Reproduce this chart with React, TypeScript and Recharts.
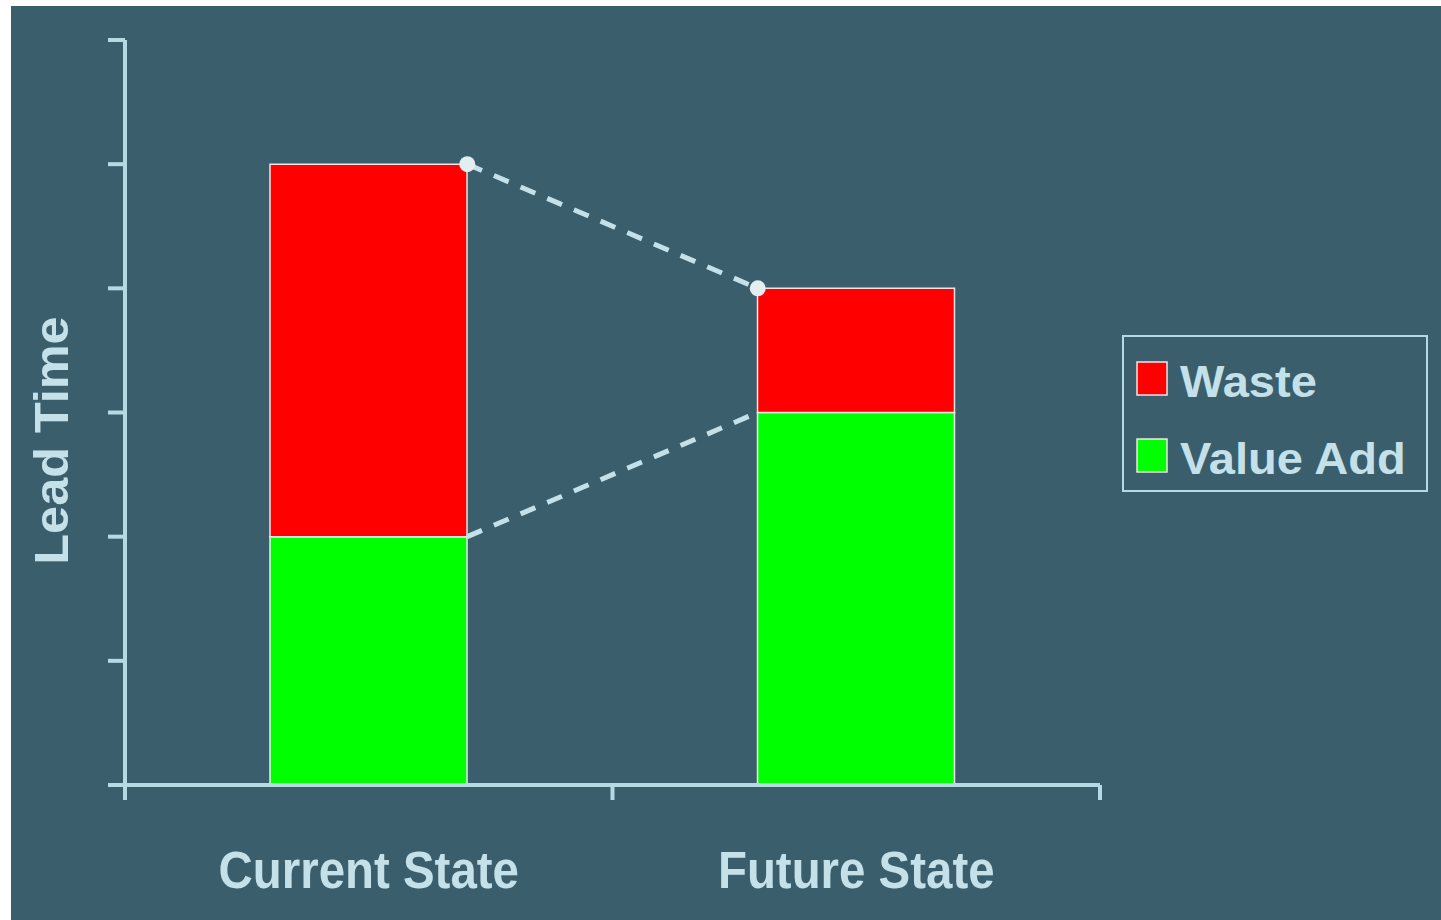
import React from 'react';
import { ComposedChart, Bar, XAxis, YAxis, ReferenceLine, ReferenceDot, Legend } from 'recharts';

const categories = ['Current State', 'Future State'];
const valueAdd = [2, 3];
const waste = [3, 1];
const yTicks = [0, 1, 2, 3, 4, 5, 6];
const seriesNames = { waste: 'Waste', valueAdd: 'Value Add' };
const yTitle = 'Lead Time';

const BG = '#3a5e6c';
const INK = '#c4e0e8';
const AXIS = '#b6dae4';
const RED = '#ff0000';
const GREEN = '#00ff00';
const FONT = '"Liberation Sans", Arial, sans-serif';

const W = 1430;
const H = 914;
const MARGIN = { top: 34, right: 341, bottom: 0, left: 0 };
const Y_AXIS_W = 114;
const X_AXIS_H = 135;
const BAR_SIZE = 197;

// bar edge offset in category units, for the dashed connectors
const plotWidth = W - MARGIN.left - MARGIN.right - Y_AXIS_W;
const bandPx = plotWidth / categories.length;
const halfBar = BAR_SIZE / 2 / bandPx;

// each category sits in the middle of a unit-wide slot on a numeric axis
const data = categories.map((name, i) => ({
  name,
  pos: i + 0.5,
  valueAdd: valueAdd[i],
  waste: waste[i],
}));
const totals = categories.map((_, i) => valueAdd[i] + waste[i]);
const leftEdge = 0.5 + halfBar;
const rightEdge = 1.5 - halfBar;
const xTicks = [0, 0.5, 1, 1.5, 2];

const XTick = (props: any) => {
  const { x, y, payload } = props;
  const v = Number(payload.value);
  if (Number.isInteger(v)) {
    return <line x1={x} y1={y} x2={x} y2={y + 15} stroke={AXIS} strokeWidth={4} />;
  }
  return (
    <text
      transform={`translate(${x} ${y + 103}) scale(0.93 1)`}
      textAnchor="middle"
      fill={INK}
      fontFamily={FONT}
      fontWeight="bold"
      fontSize={51}
    >
      {categories[Math.floor(v)]}
    </text>
  );
};

const YTitle = (props: any) => {
  const { viewBox } = props;
  const cx = viewBox.x + 57;
  const cy = viewBox.y + viewBox.height / 2 + 28;
  return (
    <text
      transform={`translate(${cx} ${cy}) rotate(-90) scale(1.05 1)`}
      textAnchor="middle"
      fill={INK}
      fontFamily={FONT}
      fontWeight="bold"
      fontSize={48}
    >
      {yTitle}
    </text>
  );
};

const LegendBox = (props: any) => {
  const items = [...(props.payload || [])].reverse();
  return (
    <div
      style={{
        position: 'relative',
        border: `2px solid ${AXIS}`,
        width: 306,
        height: 157,
        boxSizing: 'border-box',
      }}
    >
      <svg width={302} height={153} style={{ position: 'absolute', left: 0, top: 0 }}>
        {items.map((item: any, i: number) => {
          const top = 25 + i * 77;
          return (
            <g key={item.value}>
              <rect x={13} y={top} width={30} height={33} fill={item.color} stroke="#f0e6e6" strokeWidth={1.5} />
              <text
                transform={`translate(56 ${top + 35}) scale(1.07 1)`}
                fill={INK}
                fontFamily={FONT}
                fontWeight="bold"
                fontSize={44}
              >
                {item.value}
              </text>
            </g>
          );
        })}
      </svg>
    </div>
  );
};

export default function App() {
  return (
    <div style={{ position: 'absolute', left: 11, top: 6, width: W, height: H, background: BG }}>
      <ComposedChart width={W} height={H} data={data} margin={MARGIN}>
        <XAxis
          dataKey="pos"
          type="number"
          domain={[0, 2]}
          allowDataOverflow
          ticks={xTicks}
          interval={0}
          height={X_AXIS_H}
          axisLine={{ stroke: AXIS, strokeWidth: 4 }}
          tickLine={false}
          tickSize={0}
          tickMargin={0}
          tick={<XTick />}
        />
        <YAxis
          domain={[0, 6]}
          ticks={yTicks}
          width={Y_AXIS_W}
          tickSize={17}
          tickFormatter={() => ''}
          axisLine={{ stroke: AXIS, strokeWidth: 4 }}
          tickLine={{ stroke: AXIS, strokeWidth: 4 }}
          label={<YTitle />}
        />
        <Bar
          dataKey="valueAdd"
          name={seriesNames.valueAdd}
          stackId="a"
          fill={GREEN}
          stroke="#e8f2ee"
          strokeWidth={1.5}
          barSize={BAR_SIZE}
          isAnimationActive={false}
        />
        <Bar
          dataKey="waste"
          name={seriesNames.waste}
          stackId="a"
          fill={RED}
          stroke="#f4e4e4"
          strokeWidth={1.5}
          barSize={BAR_SIZE}
          isAnimationActive={false}
        />
        <ReferenceLine
          segment={[
            { x: leftEdge, y: totals[0] },
            { x: rightEdge, y: totals[1] },
          ]}
          stroke={INK}
          strokeWidth={5}
          strokeDasharray="16 13"
        />
        <ReferenceLine
          segment={[
            { x: leftEdge, y: valueAdd[0] },
            { x: rightEdge, y: valueAdd[1] },
          ]}
          stroke={INK}
          strokeWidth={5}
          strokeDasharray="16 13"
        />
        <ReferenceDot x={leftEdge} y={totals[0]} r={8} fill="#e2eef0" stroke="none" />
        <ReferenceDot x={rightEdge} y={totals[1]} r={8} fill="#e2eef0" stroke="none" />
        <Legend
          layout="vertical"
          align="center"
          verticalAlign="middle"
          content={<LegendBox />}
          wrapperStyle={{ left: 1111, top: 329, width: 306, height: 157 }}
        />
      </ComposedChart>
    </div>
  );
}
